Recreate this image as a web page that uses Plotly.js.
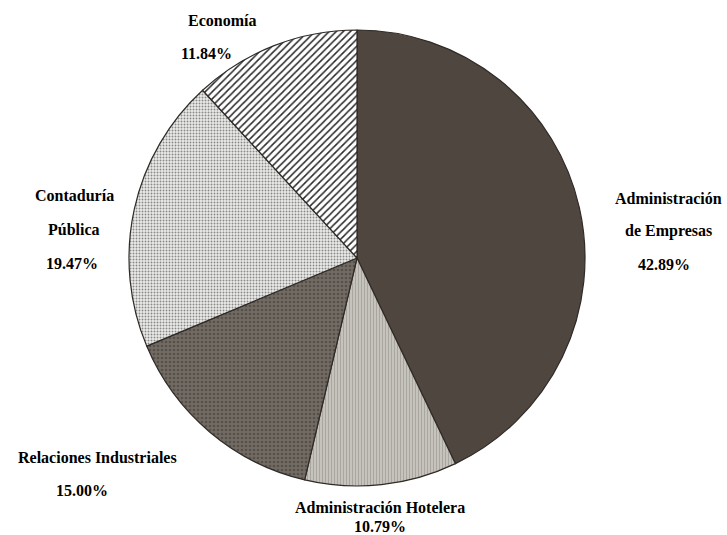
<!DOCTYPE html>
<html>
<head>
<meta charset="utf-8">
<script src="https://cdn.plot.ly/plotly-3.0.1.min.js"></script>
<style>html,body{margin:0;padding:0;background:#fff;}#chart{width:727px;height:535px;}</style>
</head>
<body>
<div id="chart"></div>
<script>
// Data
var categories = ["Administración<br>de Empresas", "Administración Hotelera", "Relaciones Industriales", "Contaduría<br>Pública", "Economía"];
var values = [42.89, 10.79, 15.00, 19.47, 11.84];

// Styles (not data)
var sliceColors = ["#4f4640", "#bdb9b2", "#6b645d", "#e4e4e2", "#ffffff"];
var patShapes = ["", "|", ".", ".", "/"];
var patFg = ["#4f4640", "#a9a59f", "#57504a", "#8a8a8a", "#2a2a2a"];
var patBg = ["#4f4640", "#c6c2bc", "#726b64", "#ececea", "#ffffff"];
var patSize = [8, 3, 4, 3, 5];
var patSolid = [0.3, 0.35, 0.35, 0.35, 0.3];

// Label line positions in pixels [x, y] for each text line (name lines + percent line)
var labelPos = [
  [[668, 198], [668, 231], [664, 265]],
  [[380, 507], [380, 526]],
  [[97, 457], [82, 490]],
  [[74, 196], [74, 229], [72, 263]],
  [[222, 20], [206, 54]]
];

var W = 727, H = 535;
var annotations = [];
categories.forEach(function (cat, i) {
  var lines = cat.split("<br>");
  lines.push(values[i].toFixed(2) + "%");
  lines.forEach(function (ln, j) {
    var p = labelPos[i][j];
    annotations.push({
      xref: "paper", yref: "paper",
      x: p[0] / W, y: 1 - p[1] / H,
      xanchor: "center", yanchor: "middle",
      text: "<b>" + ln + "</b>",
      showarrow: false,
      font: {family: "Liberation Serif, DejaVu Serif, serif", size: 16, color: "#000000"}
    });
  });
});

var trace = {
  type: "pie",
  labels: categories,
  values: values,
  sort: false,
  direction: "clockwise",
  rotation: 0,
  textinfo: "none",
  hoverinfo: "label+percent",
  marker: {
    colors: sliceColors,
    line: {color: "#2f2a27", width: 1.2},
    pattern: {shape: patShapes, fgcolor: patFg, bgcolor: patBg, size: patSize, solidity: patSolid, fillmode: "replace"}
  },
  domain: {x: [129 / W, (129 + 456) / W], y: [49 / H, (49 + 456) / H]}
};

var layout = {
  width: W, height: H,
  margin: {l: 0, r: 0, t: 0, b: 0},
  showlegend: false,
  paper_bgcolor: "#ffffff",
  annotations: annotations
};

Plotly.newPlot("chart", [trace], layout, {displayModeBar: false, staticPlot: true});
</script>
</body>
</html>
